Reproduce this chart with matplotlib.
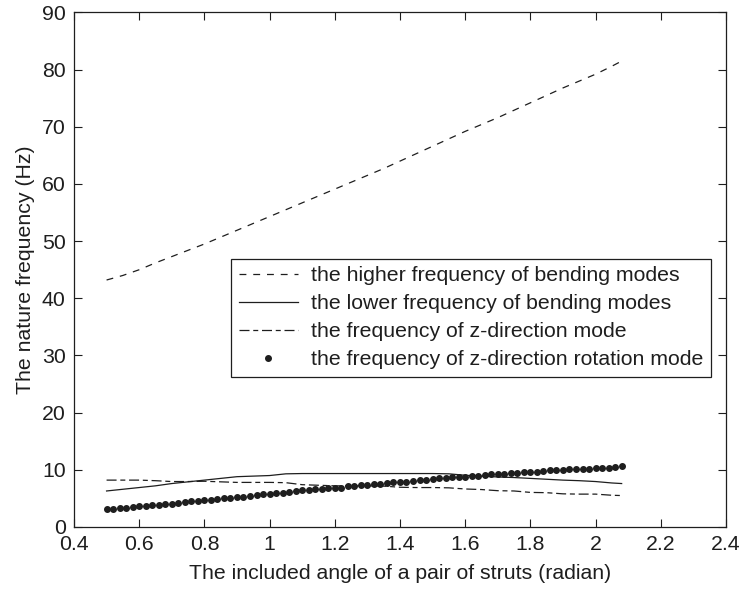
import numpy as np
import matplotlib.pyplot as plt

plt.rcParams['font.family'] = ['Liberation Sans', 'DejaVu Sans']

# sample grid of the strut angle (radian)
angle = np.round(np.arange(0.50, 2.081, 0.02), 2)

# sparser sampling used for the three mode curves
angle_line = [0.50, 0.55, 0.60, 0.65, 0.70, 0.75, 0.80, 0.85, 0.90, 0.95,
              1.00, 1.05, 1.10, 1.15, 1.20, 1.25, 1.30, 1.35, 1.40, 1.45,
              1.50, 1.55, 1.60, 1.65, 1.70, 1.75, 1.80, 1.85, 1.90, 1.95,
              2.00, 2.05, 2.08]

bend_high = [43.2, 44.0, 45.0, 46.2, 47.3, 48.4, 49.5, 50.7, 51.9, 53.1,
             54.3, 55.5, 56.7, 57.9, 59.1, 60.3, 61.5, 62.7, 64.0, 65.3,
             66.6, 67.9, 69.2, 70.4, 71.6, 72.9, 74.2, 75.5, 76.8, 78.0,
             79.2, 80.6, 81.5]

bend_low = [6.3, 6.6, 6.9, 7.2, 7.6, 7.9, 8.2, 8.5, 8.8, 8.9,
            9.0, 9.3, 9.35, 9.35, 9.35, 9.35, 9.35, 9.35, 9.35, 9.35,
            9.35, 9.3, 9.05, 8.9, 8.75, 8.65, 8.5, 8.35, 8.2, 8.1,
            7.95, 7.7, 7.6]

z_mode = [8.2, 8.2, 8.2, 8.1, 7.95, 7.95, 8.0, 7.9, 7.8, 7.8,
          7.8, 7.75, 7.4, 7.3, 7.2, 7.2, 7.2, 7.15, 6.95, 6.9,
          6.9, 6.85, 6.65, 6.55, 6.35, 6.3, 6.05, 6.0, 5.8, 5.75,
          5.75, 5.55, 5.5]

z_rot = [3.1, 3.2, 3.3, 3.4, 3.5, 3.6, 3.6, 3.8, 3.9, 4.0,
         4.1, 4.2, 4.3, 4.5, 4.6, 4.7, 4.7, 4.9, 5.0, 5.1,
         5.2, 5.3, 5.4, 5.6, 5.7, 5.8, 5.9, 6.0, 6.1, 6.3,
         6.4, 6.5, 6.6, 6.7, 6.8, 6.9, 6.9, 7.1, 7.2, 7.3,
         7.4, 7.5, 7.6, 7.7, 7.8, 7.9, 7.9, 8.1, 8.2, 8.3,
         8.4, 8.5, 8.6, 8.7, 8.8, 8.8, 8.9, 9.0, 9.1, 9.2,
         9.3, 9.3, 9.5, 9.5, 9.6, 9.7, 9.7, 9.8, 9.9, 9.9,
         10.0, 10.1, 10.1, 10.2, 10.2, 10.3, 10.4, 10.4, 10.5, 10.6]

labels = ['the higher frequency of bending modes',
          'the lower frequency of bending modes',
          'the frequency of z-direction mode',
          'the frequency of z-direction rotation mode']

ink = '#1e1e1e'
fs = 15.3

fig = plt.figure(figsize=(7.42, 5.91), dpi=100)
ax = fig.add_axes([0.0997, 0.1083, 0.8787, 0.8706])

ax.plot(angle_line, bend_high, color=ink, lw=0.9, dashes=(5.5, 5.5), label=labels[0])
ax.plot(angle_line, bend_low, color=ink, lw=0.9, label=labels[1])
ax.plot(angle_line, z_mode, color=ink, lw=0.9, dashes=(8, 3, 4, 3), label=labels[2])
ax.plot(angle, z_rot, ls='none', marker='o', ms=4.0, color=ink, label=labels[3])

ax.set_xlim(0.4, 2.4)
ax.set_ylim(0, 90)
xt = [0.4, 0.6, 0.8, 1.0, 1.2, 1.4, 1.6, 1.8, 2.0, 2.2, 2.4]
ax.set_xticks(xt)
ax.set_xticklabels(['%g' % v for v in xt])
ax.set_yticks(range(0, 91, 10))
ax.tick_params(direction='in', top=True, right=True, length=6, width=0.8,
               labelsize=fs, colors=ink)
ax.tick_params(axis='x', pad=6)
ax.tick_params(axis='y', pad=6)
for s in ax.spines.values():
    s.set_linewidth(0.9)
    s.set_color(ink)

ax.set_xlabel('The included angle of a pair of struts (radian)', fontsize=fs,
              color=ink, labelpad=7)
ax.set_ylabel('The nature frequency (Hz)', fontsize=fs, color=ink, labelpad=5)

leg = ax.legend(loc='upper left', bbox_to_anchor=(0.241, 0.521), borderaxespad=0,
                fontsize=fs, handlelength=2.8, handletextpad=0.6,
                labelspacing=0.42, borderpad=0.35, fancybox=False,
                framealpha=1, edgecolor=ink)
leg.get_frame().set_linewidth(0.9)
for t in leg.get_texts():
    t.set_color(ink)

fig.savefig('out.png', dpi=100)
